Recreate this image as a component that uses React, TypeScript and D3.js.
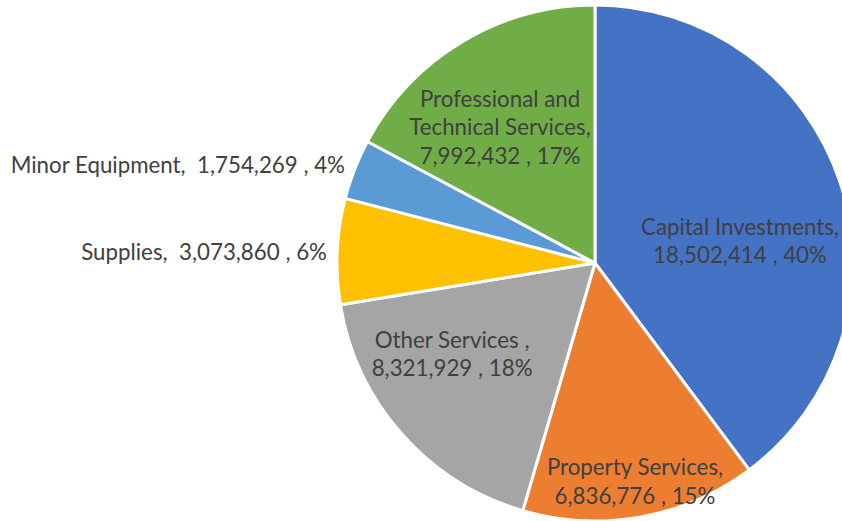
import React from "react";
import * as d3 from "d3";

const categories = [
  "Capital Investments",
  "Property Services",
  "Other Services",
  "Supplies",
  "Minor Equipment",
  "Professional and Technical Services",
];
const values = [18502414, 6836776, 8321929, 3073860, 1754269, 7992432];
const percentLabels = ["40%", "15%", "18%", "6%", "4%", "17%"];
const colors = ["#4472C4", "#ED7D31", "#A5A5A5", "#FFC000", "#5B9BD5", "#70AD47"];

// label text lines (as shown in the chart)
const labelLines: string[][] = [
  ["Capital Investments,", "18,502,414 , 40%"],
  ["Property Services,", "6,836,776 , 15%"],
  ["Other Services ,", "8,321,929 , 18%"],
  ["Supplies,  3,073,860 , 6%"],
  ["Minor Equipment,  1,754,269 , 4%"],
  ["Professional and", "Technical Services,", "7,992,432 , 17%"],
];
// label layout: offset from pie center in radius units, anchor
const labelLayout: { dx: number; dy: number; anchor: string }[] = [
  { dx: 0.562, dy: -0.109, anchor: "middle" },
  { dx: 0.155, dy: 0.822, anchor: "middle" },
  { dx: -0.554, dy: 0.329, anchor: "middle" },
  { dx: -1.039, dy: -0.012, anchor: "end" },
  { dx: -0.969, dy: -0.349, anchor: "end" },
  { dx: -0.368, dy: -0.605, anchor: "middle" },
];

export default function App() {
  const W = 842, H = 521;
  const cx = 595, cy = 263, r = 258;
  const lineH = 28.5;
  const pie = d3.pie<number>().sort(null).value((d) => d)(values);
  const arc = d3.arc<d3.PieArcDatum<number>>().innerRadius(0).outerRadius(r);
  return (
    <svg
      width={W}
      height={H}
      style={{ position: "absolute", left: 0, top: 0, background: "#fff" }}
    >
      <g transform={`translate(${cx},${cy})`}>
        {pie.map((p, i) => (
          <path key={i} d={arc(p) || ""} fill={colors[i]} stroke="#fff" strokeWidth={3} strokeLinejoin="round" />
        ))}
        {labelLines.map((lines, i) => (
          <text
            key={i}
            x={labelLayout[i].dx * r}
            y={labelLayout[i].dy * r}
            textAnchor={labelLayout[i].anchor}
            fontFamily="Lato, 'Open Sans', sans-serif"
            fontSize={22.3}
            fill="#404040"
            style={{ whiteSpace: "pre" }}
          >
            {lines.map((ln, j) => (
              <tspan key={j} x={labelLayout[i].dx * r} dy={j === 0 ? 0 : lineH}>
                {ln}
              </tspan>
            ))}
          </text>
        ))}
      </g>
    </svg>
  );
}
